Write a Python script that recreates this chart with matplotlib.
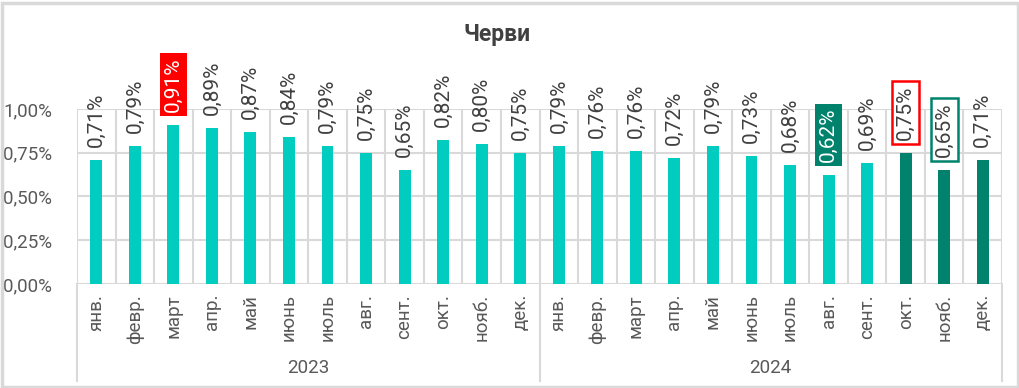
import matplotlib
matplotlib.use("Agg")
import matplotlib.pyplot as plt
from matplotlib.lines import Line2D
from matplotlib.patches import Rectangle

plt.rcParams['font.family'] = ['Roboto', 'DejaVu Sans']

title = "Черви"
months = ["янв.", "февр.", "март", "апр.", "май", "июнь", "июль", "авг.",
          "сент.", "окт.", "нояб.", "дек."]
years = ["2023", "2024"]
values_2023 = [0.71, 0.79, 0.91, 0.89, 0.87, 0.84, 0.79, 0.75, 0.65, 0.82, 0.80, 0.75]
values_2024 = [0.79, 0.76, 0.76, 0.72, 0.79, 0.73, 0.68, 0.62, 0.69, 0.75, 0.65, 0.71]
yticks = [0.0, 0.25, 0.5, 0.75, 1.0]

values = values_2023 + values_2024
labels = months + months
n = len(values)

C_LIGHT = "#00CCC0"
C_DARK = "#00826C"
C_RED = "#FF0000"
C_GRID = "#D9D9D9"
C_TEXT = "#404040"
C_AXT = "#595959"

colors = [C_LIGHT] * n
for i in (21, 22, 23):
    colors[i] = C_DARK

fig = plt.figure(figsize=(10.19, 3.88), dpi=100)
W, H = 1019, 388
x0, x1 = 77, 1002
ytop, ybot = 109, 284
ax = fig.add_axes([x0 / W, 1 - ybot / H, (x1 - x0) / W, (ybot - ytop) / H])

xs = list(range(n))
ax.bar(xs, values, width=0.31, color=colors, zorder=3)
ax.set_xlim(-0.5, n - 0.5)
ax.set_ylim(0, 1.0)

for y in yticks:
    ax.axhline(y, color=C_GRID, lw=1.5, zorder=1)
for b in range(n + 1):
    ax.axvline(b - 0.5, color=C_GRID, lw=1.5, zorder=1)

for s in ax.spines.values():
    s.set_visible(False)
ax.set_yticks(yticks)
ax.set_yticklabels([f"{v:.2f}%".replace(".", ",") for v in yticks],
                   fontsize=13.5, color=C_AXT)
ax.tick_params(axis='y', length=0, pad=18)
ax.set_xticks([])

# value labels
for i, v in enumerate(values):
    txt = f"{v:.2f}%".replace(".", ",")
    kw = dict(color=C_TEXT)
    bbox = None
    if i == 2:
        kw = dict(color="white")
        bbox = dict(boxstyle="square,pad=0.2", fc=C_RED, ec="none")
    elif i == 19:
        kw = dict(color="white")
        bbox = dict(boxstyle="square,pad=0.2", fc=C_DARK, ec="none")
    elif i == 21:
        bbox = dict(boxstyle="square,pad=0.2", fc="white", ec=C_RED, lw=1.8)
    elif i == 22:
        bbox = dict(boxstyle="square,pad=0.2", fc="white", ec=C_DARK, lw=1.8)
    ax.annotate(txt, (i, v), xytext=(0, 9.5), textcoords="offset points",
                rotation=90, ha="center", va="bottom", fontsize=15,
                bbox=bbox, annotation_clip=False, zorder=5, **kw)

# month labels
for i, lab in enumerate(labels):
    fig.text((x0 + (i + 0.5) * (x1 - x0) / n) / W, 1 - 294 / H, lab,
             rotation=90, ha="center", va="top", fontsize=13.5, color=C_AXT)

# year labels
for k, yr in enumerate(years):
    cx = x0 + (k * 12 + 6) * (x1 - x0) / n
    fig.text(cx / W, 1 - 368 / H, yr, ha="center", va="center",
             fontsize=13.5, color=C_AXT)

# group separators in category area
for b in (0, 12, 24):
    xp = (x0 + b * (x1 - x0) / n) / W
    fig.add_artist(Line2D([xp, xp], [1 - 284 / H, 1 - 381 / H], color=C_GRID,
                          lw=1.5, transform=fig.transFigure))

# title
fig.text(497 / W, 1 - 35 / H, title, ha="center", va="center", fontsize=16.5,
         fontweight="bold", color=C_TEXT)

# figure border
fig.add_artist(Rectangle((1.5 / W, 1.5 / H), 1 - 3 / W, 1 - 4.5 / H,
                         transform=fig.transFigure, fill=False, ec=C_GRID, lw=2.5))

fig.savefig("out.png", dpi=100)
